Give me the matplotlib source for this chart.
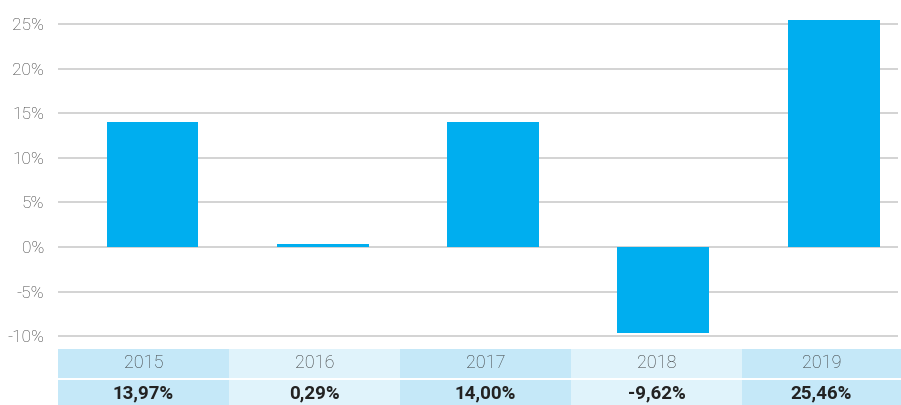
import matplotlib
matplotlib.use("Agg")
import matplotlib.pyplot as plt
from matplotlib.patches import Rectangle

years = ["2015", "2016", "2017", "2018", "2019"]
returns = [13.97, 0.29, 14.00, -9.62, 25.46]
value_labels = ["13,97%", "0,29%", "14,00%", "-9,62%", "25,46%"]
yticks = [-10, -5, 0, 5, 10, 15, 20, 25]

plt.rcParams['font.family'] = ['Roboto', 'DejaVu Sans']

W, H = 901, 405
fig = plt.figure(figsize=(W / 100, H / 100), dpi=100)
ax_left, ax_right = 58 / W, 898 / W
ax_top, ax_bot = 1 - 0 / H, 1 - 337 / H
ax = fig.add_axes([ax_left, ax_bot, ax_right - ax_left, ax_top - ax_bot])

x = list(range(len(years)))
ax.bar(x, returns, width=0.54, color="#00AEEF", zorder=3)
ax.set_xlim(-0.555, 4.378)
ax.set_ylim(-10.1, 27.7)
ax.set_yticks(yticks)
ax.set_yticklabels([f"{t}%" for t in yticks], fontsize=12.5, color="#333333", fontweight="light")
ax.set_xticks([])
ax.grid(axis="y", color="#CCCCCC", linewidth=1.2, zorder=0)
ax.tick_params(axis="y", length=0, pad=10)
for s in ax.spines.values():
    s.set_visible(False)

# table below
tbl_left = 58
cw = 171
rows = [(349, 378), (380, 406)]
dark, light = "#C5E8F8", "#E0F3FB"
for i, (yr, lab) in enumerate(zip(years, value_labels)):
    col = dark if i % 2 == 0 else light
    x0 = tbl_left + i * cw
    for r, (y0, y1) in enumerate(rows):
        fig.patches.append(Rectangle((x0 / W, 1 - y1 / H), cw / W, (y1 - y0) / H,
                                     transform=fig.transFigure, facecolor=col,
                                     edgecolor="none", zorder=0))
    xc = (x0 + cw / 2) / W
    if i == len(years) - 1:
        xc = (x0 + (W - x0) / 2) / W
    fig.text(xc, 1 - (rows[0][0] + rows[0][1]) / 2 / H, yr, ha="center", va="center",
             fontsize=13, color="#333333", fontweight="light")
    fig.text(xc, 1 - (rows[1][0] + rows[1][1]) / 2 / H, lab, ha="center", va="center",
             fontsize=13.5, color="#222222", fontweight="bold")

fig.savefig("out.png", dpi=100)
